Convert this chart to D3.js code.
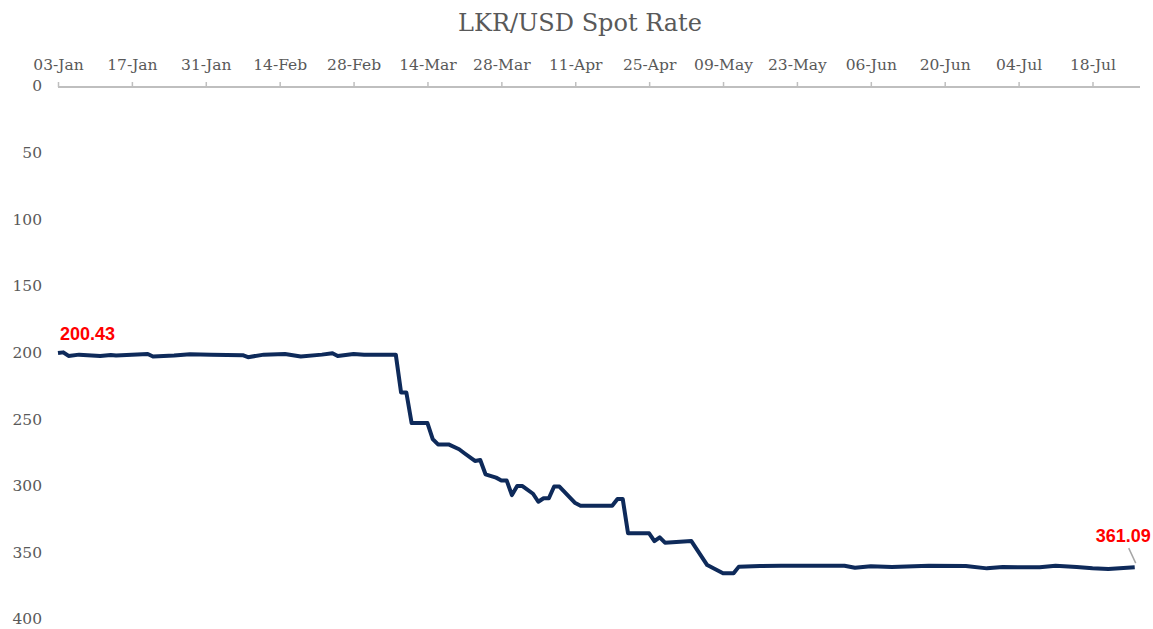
<!DOCTYPE html>
<html>
<head>
  <meta charset="UTF-8">
  <title>LKR/USD Spot Rate</title>
  <script src="https://cdnjs.cloudflare.com/ajax/libs/d3/7.8.5/d3.min.js"></script>
</head>
<style type="text/css">
  body { margin: 0; background: #fff; }
  svg#chart { display: block; }
  .title { font-family: "DejaVu Serif", serif; font-size: 24px; fill: #595959; }
  .tick text { font-family: "DejaVu Serif", serif; font-size: 15.5px; fill: #595959; }
  .dlabel { font-family: "Liberation Sans", Arial, sans-serif; font-weight: bold; font-size: 18px; fill: #ff0000; }
</style>
<body>
  <svg id="chart"></svg>
</body>
<script type="text/javascript">
// Spot rate readings (LKR per USD)
var dates = [
  "2022-01-03", "2022-01-04", "2022-01-05", "2022-01-07", "2022-01-11", "2022-01-13",
  "2022-01-14", "2022-01-20", "2022-01-21", "2022-01-25", "2022-01-28", "2022-02-01",
  "2022-02-07", "2022-02-08", "2022-02-11", "2022-02-15", "2022-02-18", "2022-02-22",
  "2022-02-24", "2022-02-25", "2022-02-28", "2022-03-02", "2022-03-08", "2022-03-09",
  "2022-03-10", "2022-03-11", "2022-03-14", "2022-03-15", "2022-03-16", "2022-03-18",
  "2022-03-20", "2022-03-21", "2022-03-23", "2022-03-24", "2022-03-25", "2022-03-27",
  "2022-03-28", "2022-03-29", "2022-03-30", "2022-03-31", "2022-04-01", "2022-04-03",
  "2022-04-04", "2022-04-05", "2022-04-06", "2022-04-07", "2022-04-08", "2022-04-11",
  "2022-04-12", "2022-04-18", "2022-04-19", "2022-04-20", "2022-04-21", "2022-04-25",
  "2022-04-26", "2022-04-27", "2022-04-28", "2022-05-03", "2022-05-06", "2022-05-09",
  "2022-05-11", "2022-05-12", "2022-05-16", "2022-05-20", "2022-05-27", "2022-06-01",
  "2022-06-03", "2022-06-06", "2022-06-10", "2022-06-17", "2022-06-24", "2022-06-28",
  "2022-07-01", "2022-07-08", "2022-07-11", "2022-07-15", "2022-07-18", "2022-07-21",
  "2022-07-26"
];
var rates = [
  200.43, 199.9, 202.6, 201.6, 202.6, 201.9,
  202.3, 201.1, 203.0, 202.3, 201.3, 201.6,
  202.0, 203.5, 201.6, 201.1, 203.0, 201.6,
  200.6, 202.6, 201.1, 201.6, 201.6, 230.0,
  230.0, 253.0, 253.0, 265.0, 269.0, 269.0,
  272.6, 275.6, 281.4, 280.7, 291.4, 293.9,
  296.0, 296.0, 307.0, 300.2, 300.2, 306.0,
  312.0, 309.4, 309.4, 300.6, 300.6, 313.0,
  315.0, 315.0, 310.0, 310.0, 335.7, 335.7,
  341.5, 338.7, 342.7, 341.5, 359.5, 365.7,
  365.7, 360.7, 360.2, 360.0, 360.0, 360.0,
  361.5, 360.5, 361.0, 360.0, 360.2, 362.0,
  361.0, 361.2, 360.0, 361.0, 362.0, 362.5,
  361.09
];
var tickDates = [
  "2022-01-03", "2022-01-17", "2022-01-31", "2022-02-14", "2022-02-28", "2022-03-14",
  "2022-03-28", "2022-04-11", "2022-04-25", "2022-05-09", "2022-05-23", "2022-06-06",
  "2022-06-20", "2022-07-04", "2022-07-18"
];
var yTicks = [0, 50, 100, 150, 200, 250, 300, 350, 400];

var width = 1153,
    height = 629;

var parse = d3.timeParse("%Y-%m-%d");
var data = dates.map(function (d, i) { return { date: parse(d), value: rates[i] }; });

var svg = d3.select("#chart")
  .attr("width", width)
  .attr("height", height);

// x runs along the top, y is reversed (0 at the top)
var x = d3.scaleTime()
  .domain([parse("2022-01-03"), parse("2022-07-27")])
  .range([58, 1140]);

var y = d3.scaleLinear()
  .domain([0, 400])
  .range([86, 619]);

// Title
svg.append("text")
  .attr("class", "title")
  .attr("x", 580)
  .attr("y", 31)
  .attr("text-anchor", "middle")
  .text("LKR/USD Spot Rate");

// Top date axis
var xAxis = svg.append("g")
  .attr("transform", "translate(0," + 87 + ")")
  .call(d3.axisTop(x)
    .tickValues(tickDates.map(parse))
    .tickFormat(d3.timeFormat("%d-%b"))
    .tickSize(5)
    .tickPadding(12));
xAxis.select(".domain")
  .attr("d", "M" + x.range()[0] + ",0H" + x.range()[1])
  .attr("stroke", "#bfbfbf")
  .attr("stroke-width", 2);
xAxis.selectAll(".tick line").attr("stroke", "#bfbfbf").attr("stroke-width", 1.5);

// Left value axis, no line
var yAxis = svg.append("g")
  .attr("transform", "translate(42,0)")
  .call(d3.axisLeft(y).tickValues(yTicks).tickSize(0).tickPadding(0));
yAxis.select(".domain").remove();
yAxis.selectAll(".tick text").attr("dy", "0.32em");

// The line
var line = d3.line()
  .x(function (d) { return x(d.date); })
  .y(function (d) { return y(d.value); });

svg.append("path")
  .datum(data)
  .attr("fill", "none")
  .attr("stroke", "#0e2a5a")
  .attr("stroke-width", 4)
  .attr("stroke-linejoin", "round")
  .attr("d", line);

// First and last value labels
var first = data[0],
    last = data[data.length - 1];

svg.append("text")
  .attr("class", "dlabel")
  .attr("x", x(first.date) + 2)
  .attr("y", y(first.value) - 13)
  .text(first.value.toFixed(2));

svg.append("line")
  .attr("x1", x(last.date) - 6)
  .attr("y1", y(last.value) - 19)
  .attr("x2", x(last.date) + 1)
  .attr("y2", y(last.value) - 4)
  .attr("stroke", "#a6a6a6")
  .attr("stroke-width", 1.5);

svg.append("text")
  .attr("class", "dlabel")
  .attr("x", x(last.date) + 16)
  .attr("y", y(last.value) - 25)
  .attr("text-anchor", "end")
  .text(last.value.toFixed(2));
</script>
</html>
